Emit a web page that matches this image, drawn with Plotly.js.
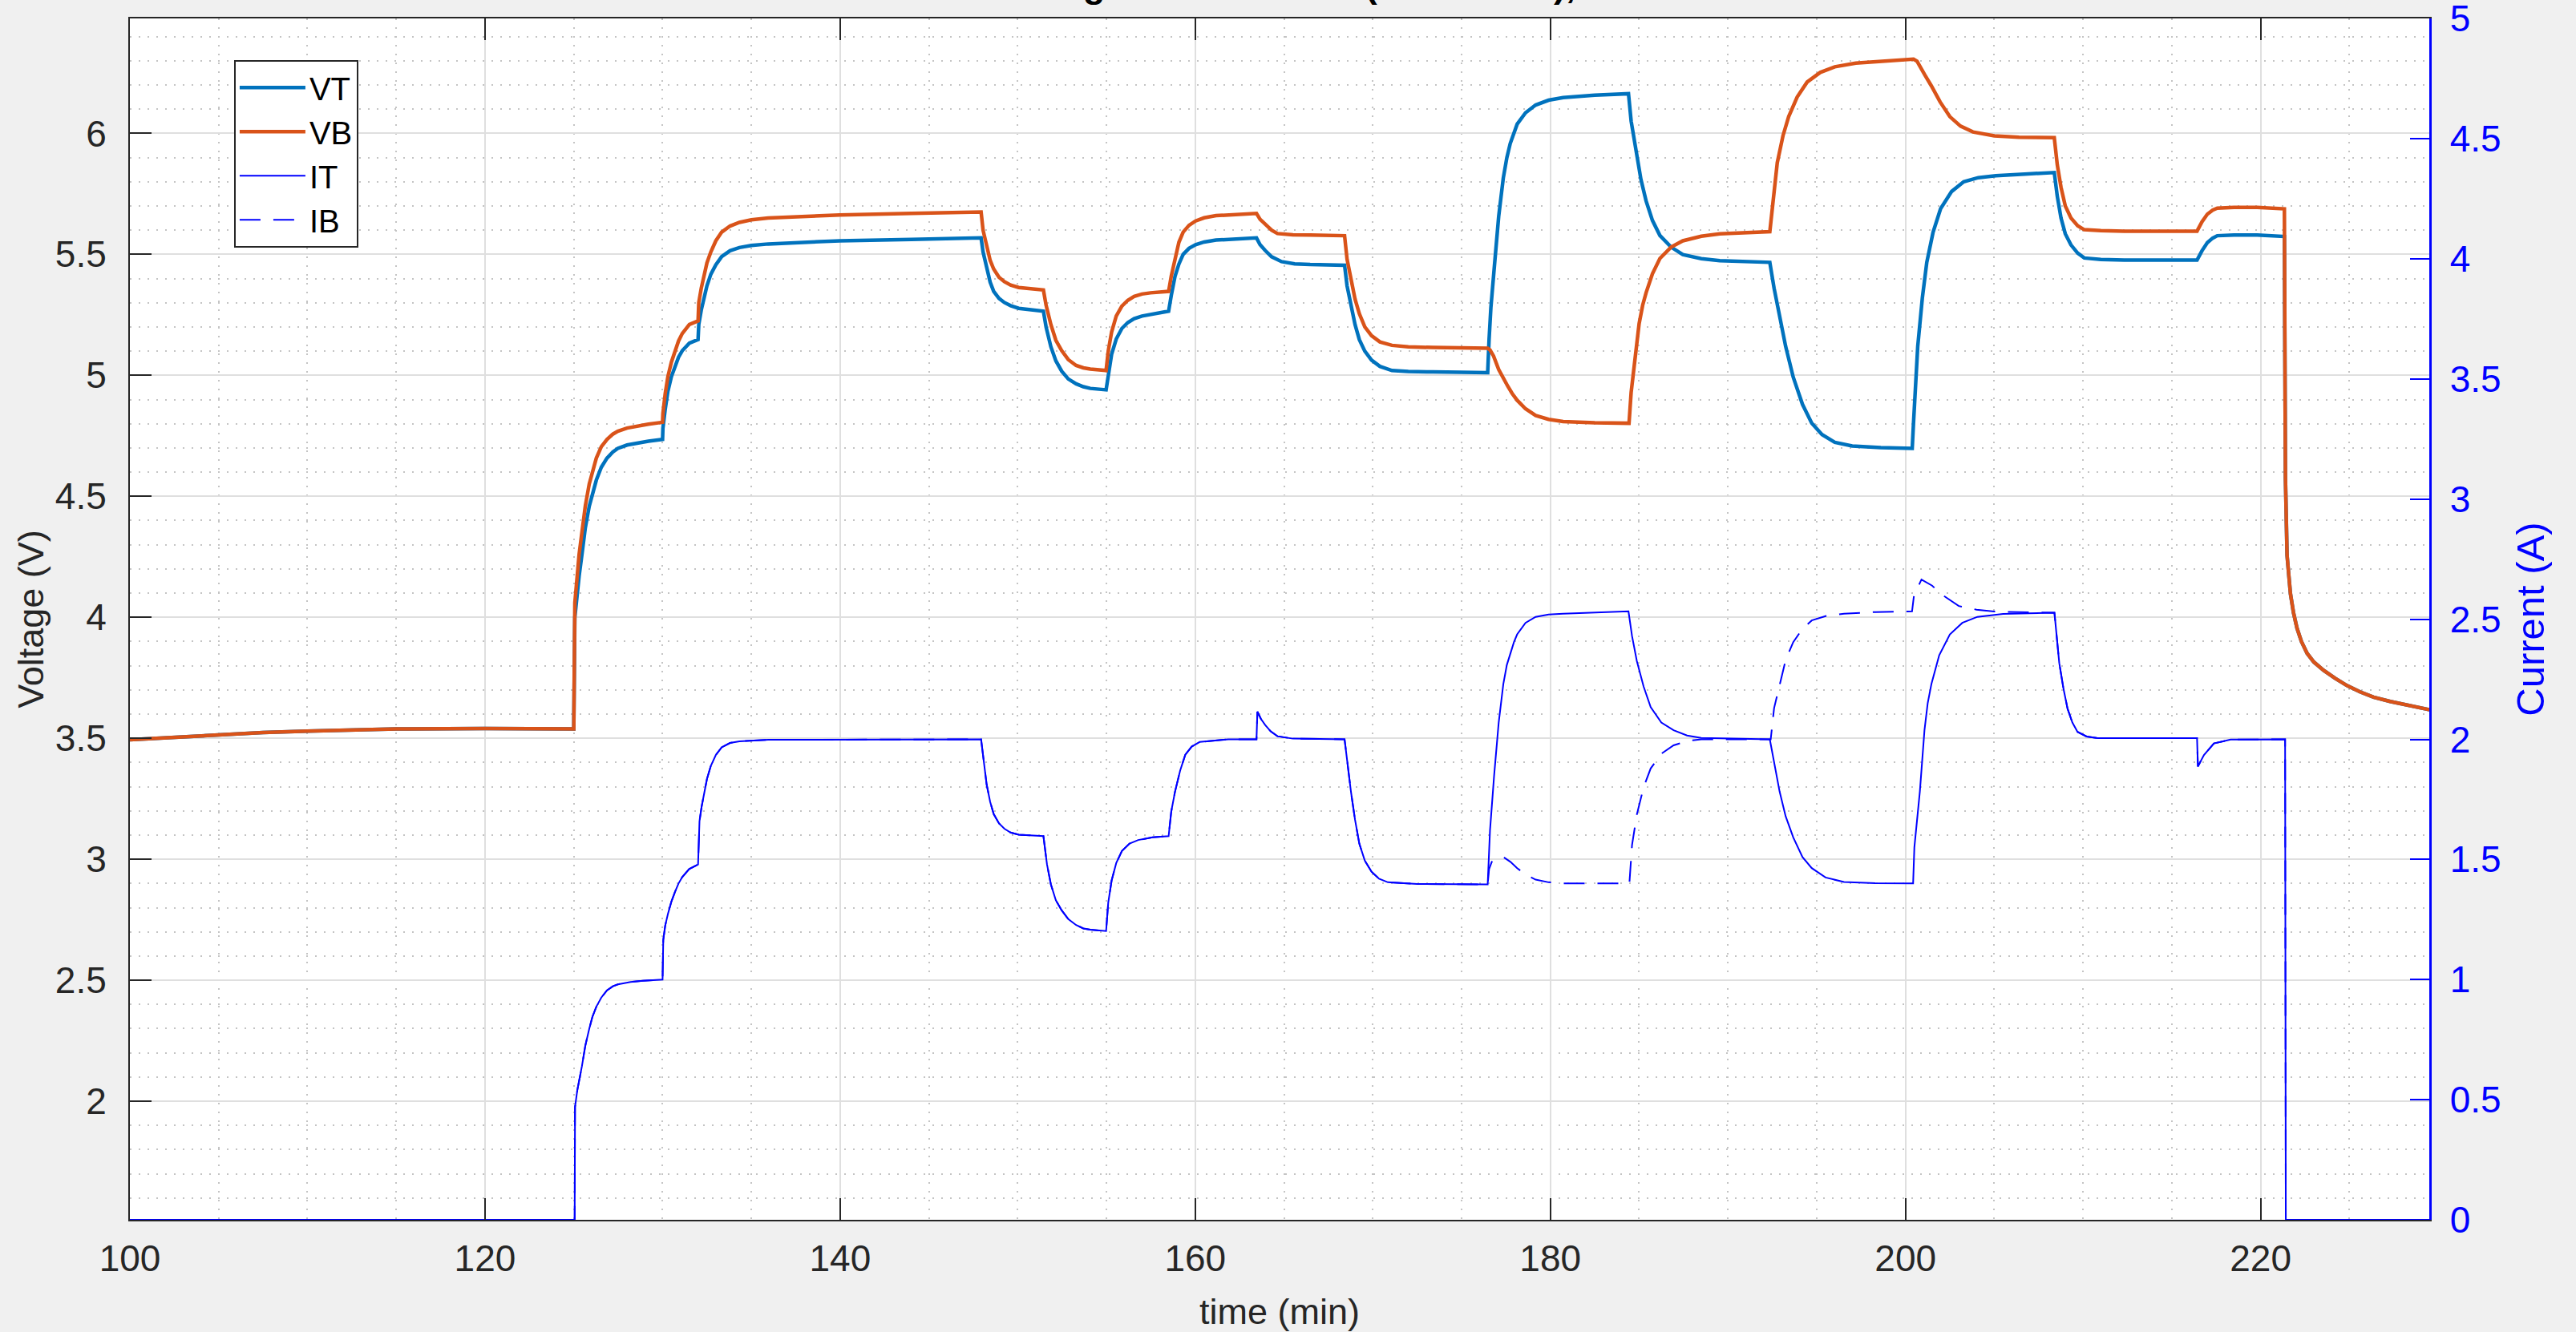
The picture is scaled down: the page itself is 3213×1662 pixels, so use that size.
<!DOCTYPE html>
<html>
<head>
<meta charset="utf-8">
<script src="https://cdn.plot.ly/plotly-3.0.1.min.js"></script>
<style>
html,body{margin:0;padding:0;background:#F0F0F0;overflow:hidden}
#chart{width:3213px;height:1662px}
</style>
</head>
<body>
<div id="chart"></div>
<script>
// ---- Data (time in minutes) ----
const tVT = [100, 102.5, 105, 107.5, 110, 112.5, 115, 120, 125.0,
  125.06, 125.15, 125.3, 125.46, 125.65, 125.87, 126.1, 126.27, 126.55, 126.87, 127.2, 127.48, 128.0, 128.49, 129.2, 130.0,
  130.02, 130.15, 130.3, 130.5, 130.7, 130.9, 131.11, 131.51, 132.0,
  132.04, 132.18, 132.32, 132.5, 132.72, 133.0, 133.33, 133.8, 134.33, 135.0, 135.95, 139.98, 144.01, 147.94,
  148.05, 148.25, 148.45, 148.65, 148.95, 149.25, 149.6, 150.06, 150.7, 151.45,
  151.6, 151.87, 152.15, 152.48, 152.85, 153.29, 153.7, 154.09, 154.98,
  155.1, 155.29, 155.55, 155.87, 156.2, 156.56, 157.0, 157.48, 158.5,
  158.65, 158.86, 159.08, 159.32, 159.65, 160.02, 160.5, 161.17, 163.45,
  163.65, 163.94, 164.3, 164.86, 165.6, 166.47, 168.41,
  168.55, 168.77, 169.0, 169.24, 169.55, 169.93, 170.4, 171.08, 172.0, 173.38, 176.47,
  176.55, 176.65, 176.83, 177.09, 177.35, 177.55, 177.74, 177.95, 178.13, 178.6, 179.17, 179.9, 180.72, 182.5, 184.4,
  184.55, 184.7, 184.87, 185.1, 185.39, 185.75, 186.17, 186.8, 187.46, 188.5, 189.54, 192.36,
  192.6, 192.91, 193.25, 193.68, 194.2, 194.72, 195.3, 196.02, 197.0, 198.61, 200.38,
  200.45, 200.55, 200.69, 200.95, 201.2, 201.55, 201.98, 202.6, 203.28, 204.1, 205.09, 206.7, 208.38,
  208.55, 208.76, 209.0, 209.32, 209.7, 210.07, 211.0, 212.32, 216.42,
  216.7, 217.0, 217.3, 217.56, 218.5, 219.81, 221.34,
  221.38, 221.4, 221.49, 221.58, 221.68, 221.85, 222.05, 222.3, 222.62, 223.0, 223.55, 224.2, 224.86, 225.6, 226.36, 227.3, 228.23, 229.64];
const VT = [3.494, 3.505, 3.516, 3.524, 3.530, 3.536, 3.539, 3.540, 3.539,
  4.00, 4.07, 4.17, 4.26, 4.37, 4.459, 4.525, 4.567, 4.62, 4.658, 4.683, 4.698, 4.712, 4.72, 4.728, 4.735,
  4.781, 4.86, 4.934, 4.995, 5.041, 5.075, 5.102, 5.133, 5.148,
  5.21, 5.27, 5.317, 5.37, 5.418, 5.457, 5.491, 5.515, 5.528, 5.537, 5.543, 5.556, 5.562, 5.568,
  5.51, 5.439, 5.385, 5.347, 5.318, 5.301, 5.288, 5.277, 5.27, 5.265,
  5.2, 5.118, 5.06, 5.017, 4.985, 4.965, 4.953, 4.946, 4.94,
  5.0, 5.087, 5.15, 5.194, 5.218, 5.234, 5.245, 5.252, 5.265,
  5.33, 5.409, 5.46, 5.50, 5.525, 5.54, 5.551, 5.559, 5.568,
  5.54, 5.516, 5.49, 5.47, 5.461, 5.458, 5.455,
  5.37, 5.286, 5.21, 5.148, 5.1, 5.063, 5.037, 5.02, 5.016, 5.014, 5.011,
  5.15, 5.28, 5.436, 5.657, 5.816, 5.9, 5.958, 6.005, 6.038, 6.085, 6.117, 6.137, 6.148, 6.158, 6.164,
  6.05, 5.98, 5.911, 5.81, 5.721, 5.64, 5.578, 5.53, 5.499, 5.482, 5.474, 5.467,
  5.36, 5.246, 5.12, 4.992, 4.88, 4.802, 4.755, 4.723, 4.708, 4.701, 4.698,
  4.80, 4.95, 5.119, 5.32, 5.467, 5.59, 5.689, 5.76, 5.80, 5.817, 5.825, 5.832, 5.838,
  5.74, 5.65, 5.585, 5.539, 5.505, 5.485, 5.479, 5.476, 5.476,
  5.515, 5.548, 5.567, 5.577, 5.58, 5.58, 5.574,
  4.9, 4.573, 4.256, 4.16, 4.098, 4.02, 3.955, 3.9, 3.851, 3.815, 3.781, 3.748, 3.718, 3.692, 3.67, 3.652, 3.638, 3.616];

const tVB = [100, 102.5, 105, 107.5, 110, 112.5, 115, 120, 125.0,
  125.06, 125.15, 125.3, 125.46, 125.65, 125.87, 126.1, 126.27, 126.55, 126.87, 127.2, 127.48, 128.0, 128.49, 129.2, 130.0,
  130.02, 130.15, 130.3, 130.5, 130.7, 130.9, 131.11, 131.51, 132.0,
  132.04, 132.18, 132.32, 132.5, 132.72, 133.0, 133.33, 133.8, 134.33, 135.0, 135.95, 139.98, 144.01, 147.94,
  148.05, 148.25, 148.45, 148.65, 148.95, 149.25, 149.6, 150.06, 150.7, 151.45,
  151.6, 151.87, 152.15, 152.48, 152.85, 153.29, 153.7, 154.09, 154.98,
  155.1, 155.29, 155.55, 155.87, 156.2, 156.56, 157.0, 157.48, 158.5,
  158.65, 158.86, 159.08, 159.32, 159.65, 160.02, 160.5, 161.17, 163.45,
  163.65, 163.94, 164.3, 164.63, 165.5, 166.47, 168.41,
  168.55, 168.77, 169.0, 169.24, 169.55, 169.93, 170.4, 171.08, 172.0, 173.38, 176.47,
  176.6, 176.8, 177.09, 177.35, 177.61, 177.85, 178.13, 178.6, 179.17, 179.9, 180.72, 182.5, 184.43,
  184.55, 184.74, 185.0, 185.2, 185.39, 185.75, 186.17, 186.8, 187.46, 188.5, 189.54, 192.36,
  192.5, 192.78, 193.1, 193.42, 193.9, 194.46, 195.2, 196.02, 197.2, 198.61, 200.45,
  200.65, 200.85, 201.1, 201.46, 201.95, 202.5, 203.1, 203.8, 205.0, 206.39, 208.38,
  208.55, 208.76, 209.0, 209.32, 209.7, 210.07, 211.0, 212.32, 216.42,
  216.7, 217.0, 217.3, 217.56, 218.5, 219.81, 221.34,
  221.38, 221.4, 221.49, 221.58, 221.68, 221.85, 222.05, 222.3, 222.62, 223.0, 223.55, 224.2, 224.86, 225.6, 226.36, 227.3, 228.23, 229.64];
const VB = [3.494, 3.505, 3.516, 3.524, 3.530, 3.536, 3.539, 3.540, 3.539,
  4.06, 4.15, 4.26, 4.352, 4.46, 4.551, 4.615, 4.658, 4.705, 4.735, 4.757, 4.769, 4.782, 4.79, 4.798, 4.806,
  4.842, 4.925, 4.995, 5.055, 5.102, 5.142, 5.173, 5.21, 5.225,
  5.301, 5.36, 5.409, 5.465, 5.51, 5.556, 5.592, 5.617, 5.632, 5.643, 5.65, 5.663, 5.669, 5.675,
  5.60, 5.531, 5.475, 5.439, 5.405, 5.387, 5.373, 5.363, 5.357, 5.353,
  5.29, 5.21, 5.145, 5.102, 5.065, 5.041, 5.031, 5.026, 5.02,
  5.10, 5.179, 5.245, 5.286, 5.31, 5.326, 5.336, 5.341, 5.347,
  5.41, 5.485, 5.55, 5.592, 5.62, 5.638, 5.651, 5.66, 5.669,
  5.645, 5.623, 5.6, 5.586, 5.581, 5.58, 5.577,
  5.48, 5.393, 5.315, 5.255, 5.2, 5.164, 5.138, 5.124, 5.118, 5.115, 5.112,
  5.105, 5.08, 5.024, 4.985, 4.954, 4.925, 4.897, 4.862, 4.834, 4.818, 4.809, 4.804, 4.802,
  4.93, 5.056, 5.214, 5.29, 5.341, 5.42, 5.483, 5.53, 5.556, 5.575, 5.585, 5.594,
  5.70, 5.879, 5.99, 6.069, 6.15, 6.212, 6.252, 6.275, 6.29, 6.297, 6.307,
  6.298, 6.275, 6.24, 6.196, 6.13, 6.069, 6.03, 6.006, 5.99, 5.984, 5.982,
  5.87, 5.777, 5.70, 5.65, 5.618, 5.602, 5.598, 5.596, 5.596,
  5.635, 5.666, 5.683, 5.691, 5.694, 5.694, 5.688,
  4.9, 4.573, 4.256, 4.16, 4.098, 4.02, 3.955, 3.9, 3.851, 3.815, 3.781, 3.748, 3.718, 3.692, 3.67, 3.652, 3.638, 3.616];

const tIT = [100, 125.05, 125.07, 125.2, 125.46, 125.65, 125.87, 126.05, 126.27, 126.55, 126.87, 127.2, 127.48, 128.2, 128.89, 130.0,
  130.04, 130.15, 130.3, 130.5, 130.7, 130.9, 131.11, 131.5, 132.0,
  132.08, 132.2, 132.32, 132.5, 132.72, 133.0, 133.33, 133.8, 134.33, 135.95, 147.94,
  148.1, 148.25, 148.45, 148.65, 148.95, 149.25, 149.6, 150.06, 151.45,
  151.65, 151.87, 152.15, 152.48, 152.85, 153.29, 153.7, 154.09, 154.98,
  155.1, 155.29, 155.55, 155.87, 156.3, 156.79, 157.6, 158.5,
  158.65, 158.86, 159.15, 159.44, 159.8, 160.25, 161.86, 163.45,
  163.5, 163.7, 163.94, 164.25, 164.63, 165.5, 168.41,
  168.6, 168.77, 169.0, 169.24, 169.55, 169.93, 170.35, 170.85, 172.5, 176.47,
  176.6, 176.83, 177.09, 177.35, 177.55, 177.74, 177.95, 178.13, 178.6, 179.17, 179.9, 180.72, 184.4,
  184.6, 184.87, 185.25, 185.65, 186.25, 186.94, 187.7, 188.5, 192.36,
  192.6, 192.91, 193.25, 193.68, 194.2, 194.72, 195.5, 196.54, 198.3, 200.43,
  200.5, 200.81, 201.07, 201.25, 201.46, 201.9, 202.5, 203.2, 204.05, 205.5, 208.39,
  208.5, 208.66, 208.9, 209.13, 209.4, 209.69, 210.2, 210.82, 216.42,
  216.47, 216.81, 217.37, 218.31, 221.38,
  221.42, 229.64];
const IT = [0, 0, 0.47, 0.54, 0.64, 0.725, 0.795, 0.845, 0.887, 0.925, 0.955, 0.972, 0.98, 0.99, 0.995, 1.0,
  1.165, 1.225, 1.273, 1.325, 1.365, 1.4, 1.427, 1.46, 1.479,
  1.659, 1.72, 1.767, 1.835, 1.89, 1.935, 1.967, 1.985, 1.992, 1.998, 2.0,
  1.9, 1.813, 1.74, 1.689, 1.65, 1.628, 1.612, 1.603, 1.597,
  1.48, 1.396, 1.33, 1.288, 1.252, 1.227, 1.213, 1.208, 1.202,
  1.32, 1.412, 1.485, 1.535, 1.566, 1.581, 1.592, 1.597,
  1.70, 1.782, 1.87, 1.936, 1.97, 1.989, 2.0, 2.0,
  2.115, 2.085, 2.06, 2.033, 2.013, 2.003, 2.0,
  1.88, 1.782, 1.665, 1.566, 1.495, 1.449, 1.42, 1.405, 1.398, 1.396,
  1.62, 1.847, 2.07, 2.23, 2.31, 2.358, 2.405, 2.437, 2.485, 2.51, 2.52, 2.523, 2.533,
  2.43, 2.326, 2.22, 2.134, 2.07, 2.038, 2.016, 2.006, 2.0,
  1.9, 1.783, 1.68, 1.592, 1.51, 1.464, 1.425, 1.406, 1.401, 1.40,
  1.55, 1.783, 2.038, 2.15, 2.23, 2.35, 2.437, 2.485, 2.51, 2.522, 2.527,
  2.43, 2.318, 2.21, 2.127, 2.07, 2.031, 2.012, 2.005, 2.005,
  1.887, 1.935, 1.983, 1.999, 2.0,
  0, 0];

const tIB = [100, 125.05, 125.07, 125.2, 125.46, 125.65, 125.87, 126.05, 126.27, 126.55, 126.87, 127.2, 127.48, 128.2, 128.89, 130.0,
  130.04, 130.15, 130.3, 130.5, 130.7, 130.9, 131.11, 131.5, 132.0,
  132.08, 132.2, 132.32, 132.5, 132.72, 133.0, 133.33, 133.8, 134.33, 135.95, 147.94,
  148.1, 148.25, 148.45, 148.65, 148.95, 149.25, 149.6, 150.06, 151.45,
  151.65, 151.87, 152.15, 152.48, 152.85, 153.29, 153.7, 154.09, 154.98,
  155.1, 155.29, 155.55, 155.87, 156.3, 156.79, 157.6, 158.5,
  158.65, 158.86, 159.15, 159.44, 159.8, 160.25, 161.86, 163.45,
  163.5, 163.7, 163.94, 164.25, 164.63, 165.5, 168.41,
  168.6, 168.77, 169.0, 169.24, 169.55, 169.93, 170.35, 170.85, 172.5, 176.47,
  176.55, 176.7, 176.9, 177.35, 177.75, 178.13, 178.6, 179.17, 179.9, 180.72, 184.45,
  184.6, 184.87, 185.25, 185.65, 186.25, 186.94, 187.7, 188.5, 192.41,
  192.6, 192.91, 193.25, 193.68, 194.2, 194.72, 195.5, 196.54, 198.3, 200.37,
  200.48, 200.9, 201.5, 202.0, 203.0, 204.0, 205.0, 208.39,
  208.5, 208.66, 208.9, 209.13, 209.4, 209.69, 210.2, 210.82, 216.42,
  216.47, 216.81, 217.37, 218.31, 221.38,
  221.42, 229.64];
const IB = [0, 0, 0.47, 0.54, 0.64, 0.725, 0.795, 0.845, 0.887, 0.925, 0.955, 0.972, 0.98, 0.99, 0.995, 1.0,
  1.165, 1.225, 1.273, 1.325, 1.365, 1.4, 1.427, 1.46, 1.479,
  1.659, 1.72, 1.767, 1.835, 1.89, 1.935, 1.967, 1.985, 1.992, 1.998, 2.0,
  1.9, 1.813, 1.74, 1.689, 1.65, 1.628, 1.612, 1.603, 1.597,
  1.48, 1.396, 1.33, 1.288, 1.252, 1.227, 1.213, 1.208, 1.202,
  1.32, 1.412, 1.485, 1.535, 1.566, 1.581, 1.592, 1.597,
  1.70, 1.782, 1.87, 1.936, 1.97, 1.989, 2.0, 2.0,
  2.115, 2.085, 2.06, 2.033, 2.013, 2.003, 2.0,
  1.88, 1.782, 1.665, 1.566, 1.495, 1.449, 1.42, 1.405, 1.398, 1.396,
  1.46, 1.49, 1.503, 1.51, 1.49, 1.464, 1.437, 1.416, 1.405, 1.40, 1.40,
  1.56, 1.687, 1.80, 1.879, 1.94, 1.975, 1.993, 2.0, 2.0,
  2.13, 2.23, 2.33, 2.405, 2.46, 2.495, 2.513, 2.523, 2.53, 2.533,
  2.60, 2.665, 2.64, 2.605, 2.555, 2.54, 2.532, 2.527,
  2.43, 2.318, 2.21, 2.127, 2.07, 2.031, 2.012, 2.005, 2.005,
  1.887, 1.935, 1.983, 1.999, 2.0,
  0, 0];

const xTicks = [100, 120, 140, 160, 180, 200, 220];
const vTicks = [2, 2.5, 3, 3.5, 4, 4.5, 5, 5.5, 6];
const iTicks = [0, 0.5, 1, 1.5, 2, 2.5, 3, 3.5, 4, 4.5, 5];

const FONT = 'Liberation Sans, Arial, Helvetica, sans-serif';
const TXT = '#262626';

const traces = [
  {x: tVT, y: VT, name: 'VT', type: 'scatter', mode: 'lines',
   line: {color: '#0072BD', width: 4.5}},
  {x: tVB, y: VB, name: 'VB', type: 'scatter', mode: 'lines',
   line: {color: '#D95319', width: 4.5}},
  {x: tIT, y: IT, name: 'IT', type: 'scatter', mode: 'lines', yaxis: 'y2',
   line: {color: '#0000FF', width: 2}},
  {x: tIB, y: IB, name: 'IB', type: 'scatter', mode: 'lines', yaxis: 'y2',
   line: {color: '#0000FF', width: 2, dash: '26px,16px'}}
];

const minorGrid = {showgrid: true, gridcolor: '#C4C4C4', griddash: '2px,9px', gridwidth: 2};

const layout = {
  width: 3213, height: 1662,
  margin: {l: 162, r: 183, t: 23, b: 140, pad: 0},
  paper_bgcolor: '#F0F0F0', plot_bgcolor: '#FFFFFF',
  font: {family: FONT, size: 46, color: TXT},
  title: {
    text: '<b>Charge Balance Test (2 in series),</b>',
    font: {family: FONT, size: 45, color: '#000000'},
    xref: 'paper', x: 0.5038, xanchor: 'center',
    yref: 'container', y: 1, yanchor: 'bottom', pad: {t: 0, b: 3, l: 0, r: 0}
  },
  showlegend: true,
  legend: {
    x: 0.0453, y: 0.9655, xanchor: 'left', yanchor: 'top',
    bgcolor: '#FFFFFF', bordercolor: TXT, borderwidth: 2, itemwidth: 82,
    font: {family: FONT, size: 40, color: '#000000'}, tracegroupgap: 0
  },
  xaxis: {
    range: [100, 229.5], tickvals: xTicks, ticktext: xTicks.map(String),
    ticks: 'inside', ticklen: 27, tickwidth: 2, tickcolor: TXT,
    showline: true, linecolor: TXT, linewidth: 2, mirror: 'ticks',
    showgrid: true, gridcolor: '#DFDFDF', gridwidth: 2, zeroline: false,
    ticklabelstandoff: 7,
    tickfont: {family: FONT, size: 46, color: TXT},
    title: {text: 'time (min)', font: {family: FONT, size: 45, color: TXT}, standoff: 36},
    minor: Object.assign({dtick: 5}, minorGrid)
  },
  yaxis: {
    range: [1.51, 6.475], tickvals: vTicks, ticktext: vTicks.map(String),
    ticks: 'inside', ticklen: 27, tickwidth: 2, tickcolor: TXT,
    showline: true, linecolor: TXT, linewidth: 2, mirror: false,
    showgrid: true, gridcolor: '#DFDFDF', gridwidth: 2, zeroline: false,
    ticklabelstandoff: 18,
    tickfont: {family: FONT, size: 46, color: TXT},
    title: {text: 'Voltage (V)', font: {family: FONT, size: 45, color: TXT}, standoff: 0},
    minor: Object.assign({dtick: 0.1, tick0: 0}, minorGrid)
  },
  yaxis2: {
    overlaying: 'y', side: 'right',
    range: [0, 5.001], tickvals: iTicks, ticktext: iTicks.map(String),
    ticks: 'inside', ticklen: 24, tickwidth: 2, tickcolor: '#0000FF',
    showline: true, linecolor: '#0000FF', linewidth: 2.5,
    showgrid: false, zeroline: false, ticklabeloverflow: 'allow',
    ticklabelstandoff: 14,
    tickfont: {family: FONT, size: 46, color: '#0000FF'},
    title: {text: 'Current (A)', font: {family: FONT, size: 49, color: '#0000FF'}, standoff: 20}
  },
  hovermode: false
};

Plotly.newPlot('chart', traces, layout, {staticPlot: true, displayModeBar: false});
</script>
</body>
</html>
